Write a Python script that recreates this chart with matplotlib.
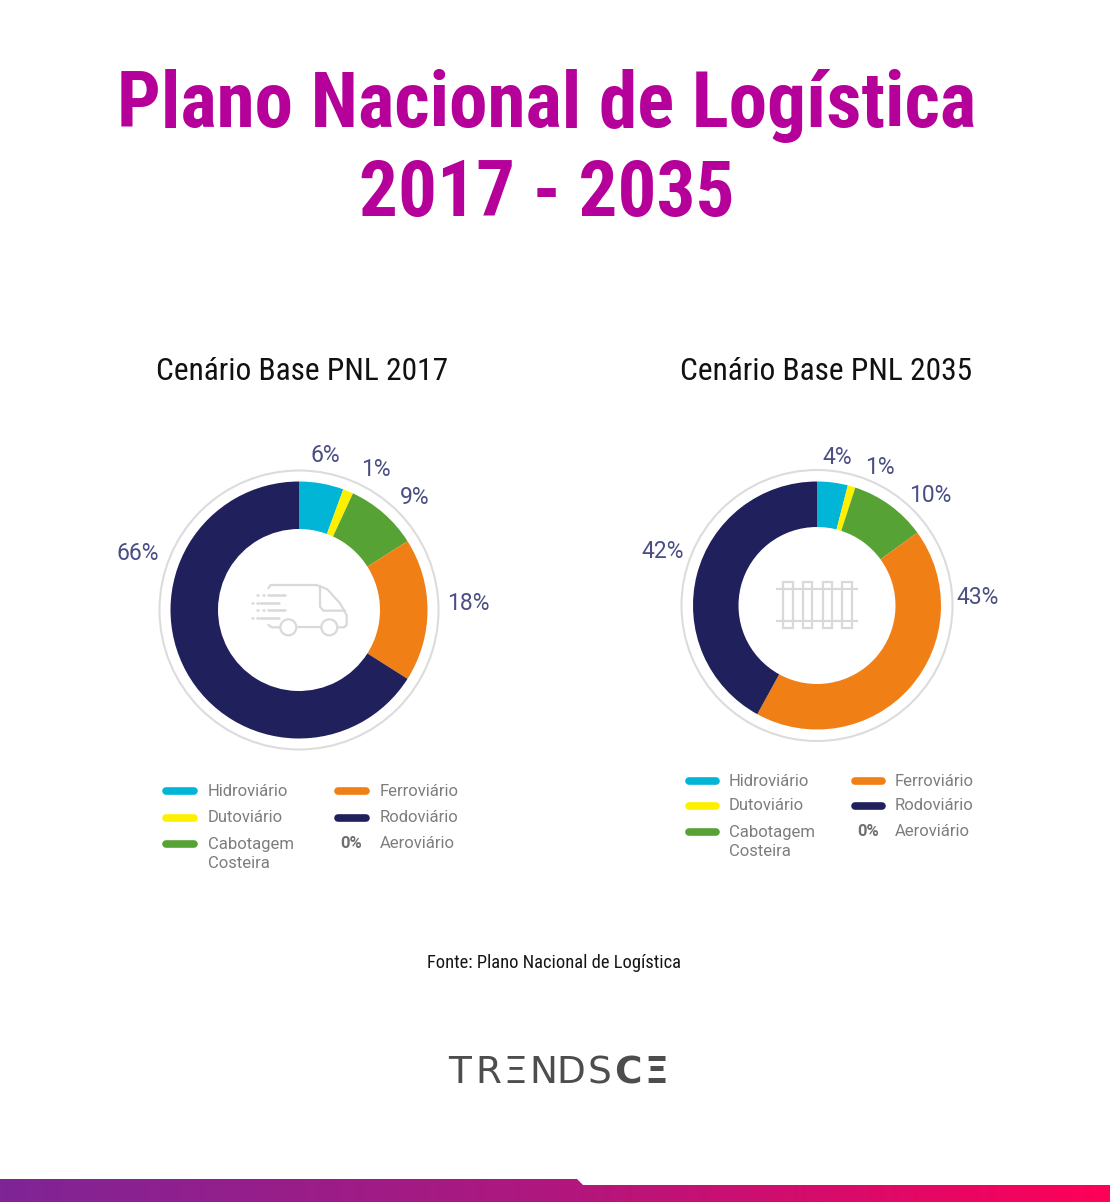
import numpy as np
import matplotlib
matplotlib.use('Agg')
import matplotlib.pyplot as plt
from matplotlib.colors import LinearSegmentedColormap
from matplotlib.patches import Circle, Polygon, Rectangle

W, H = 1110, 1202

# shares (clockwise from the top)
values_2017 = [5.6, 1.3, 9.1, 18, 66]
values_2035 = [4, 1, 10, 43, 42]
labels_2017 = ['6%', '1%', '9%', '18%', '66%']
labels_2035 = ['4%', '1%', '10%', '43%', '42%']
colors = ['#00b5d6', '#fff000', '#57a235', '#f07f16', '#20205c']
modes = ['Hidroviário', 'Dutoviário', 'Cabotagem\nCosteira', 'Ferroviário', 'Rodoviário', 'Aeroviário']

NARROW = ['Roboto Condensed', 'Liberation Sans']
LABEL_COL = '#4a4e84'
LEG_COL = '#7d7d7d'
ICON = '#d9d9d9'

fig = plt.figure(figsize=(W / 100, H / 100), dpi=100, facecolor='white')


def donut(values, cx, cy, r_out, r_in, r_ring):
    # axes box is sized to the grey ring, so the pie radius stays in pixels
    ax = fig.add_axes([(cx - r_ring - 3) / W, 1 - (cy + r_ring + 3) / H,
                       (2 * r_ring + 6) / W, (2 * r_ring + 6) / H])
    ax.pie(values, colors=colors, startangle=90, counterclock=False, radius=1,
           wedgeprops=dict(width=1 - r_in / r_out, linewidth=0))
    lim = (r_ring + 3) / r_out
    ax.set_xlim(-lim, lim)
    ax.set_ylim(-lim, lim)
    ax.add_patch(Circle((0, 0), r_ring / r_out, fill=False, ec='#dcdcdc', lw=1.5))
    ax.axis('off')


donut(values_2017, 299, 610, 128.5, 81, 139.5)
donut(values_2035, 817, 605.5, 124, 78.5, 135.5)

# overlay in pixel coordinates for texts and decoration
ov = fig.add_axes([0, 0, 1, 1], zorder=5)
ov.set_xlim(0, W)
ov.set_ylim(H, 0)
ov.axis('off')
ov.patch.set_alpha(0)

ov.text(547, 127, 'Plano Nacional de Logística', ha='center', va='baseline', fontsize=55.5,
        fontweight='bold', color='#b5009a', family=NARROW)
ov.text(547, 216, '2017 - 2035', ha='center', va='baseline', fontsize=55.5,
        fontweight='bold', color='#b5009a', family=NARROW)

ov.text(302, 380, 'Cenário Base PNL 2017', ha='center', va='baseline', fontsize=22.6, color='#111111', family=NARROW)
ov.text(826, 380, 'Cenário Base PNL 2035', ha='center', va='baseline', fontsize=22.6, color='#111111', family=NARROW)

for lab, (x, y) in zip(labels_2017, [(325, 455), (376, 469), (415, 497), (468, 603), (138, 554)]):
    ov.text(x, y, lab, ha='center', va='center', fontsize=16.5, color=LABEL_COL, family='Roboto')
for lab, (x, y) in zip(labels_2035, [(837, 458), (880, 468), (930, 496), (978, 598), (663, 551)]):
    ov.text(x, y, lab, ha='center', va='center', fontsize=16.5, color=LABEL_COL, family='Roboto')


def legend(x_sw1, x_txt1, x_sw2, x_txt2, sw_w, rows, zero_x):
    for i in range(3):
        ov.plot([x_sw1 + 3, x_sw1 + sw_w - 3], [rows[i], rows[i]], color=colors[i], lw=5.5, solid_capstyle='round')
        ov.text(x_txt1, rows[i], modes[i].split('\n')[0], ha='left', va='center', fontsize=12, color=LEG_COL,
                family='Roboto')
    ov.text(x_txt1, rows[3], modes[2].split('\n')[1], ha='left', va='center', fontsize=12, color=LEG_COL,
            family='Roboto')
    for i in range(3, 5):
        y = rows[i - 3]
        ov.plot([x_sw2 + 3, x_sw2 + sw_w - 3], [y, y], color=colors[i], lw=5.5, solid_capstyle='round')
        ov.text(x_txt2, y, modes[i], ha='left', va='center', fontsize=12, color=LEG_COL, family='Roboto')
    ov.text(zero_x, rows[2], '0%', ha='left', va='center', fontsize=12, color='#6f6f6f',
            family='Roboto', fontweight='bold')
    ov.text(x_txt2, rows[2], modes[5], ha='left', va='center', fontsize=12, color=LEG_COL, family='Roboto')


legend(163, 208, 335, 380, 34, [791, 818, 844, 864], 340)
legend(686, 729, 852, 895, 33, [781, 806, 832, 851], 857)

ov.text(554, 968, 'Fonte: Plano Nacional de Logística', ha='center', va='baseline', fontsize=13.3,
        color='#151515', family=NARROW)

# logo letters
for ch, x, bold in [('T', 460, False), ('R', 488, False), ('Ξ', 515, False), ('N', 543, False),
                    ('D', 571, False), ('S', 599, False), ('C', 628, True), ('Ξ', 656, True)]:
    ov.text(x, 1083, ch, ha='center', va='baseline', fontsize=27, color='#4d4d4d', family='DejaVu Sans',
            fontweight='bold' if bold else 'normal')


# truck icon
def tx(x, y):
    return 240 + x / 3, 570 + y / 3


def trace(pts, lw=1.6):
    p = np.array([tx(*q) for q in pts])
    ov.plot(p[:, 0], p[:, 1], color=ICON, lw=lw, solid_capstyle='round', solid_joinstyle='round')


trace([(85, 55), (92, 45), (230, 45), (262, 58), (300, 100), (320, 135), (320, 165), (312, 172), (292, 172)])
trace([(85, 165), (95, 172), (120, 172)])
trace([(170, 172), (243, 172)])
trace([(240, 48), (240, 110), (250, 122), (315, 122)])
for wx in (145, 268):
    c = tx(wx, 172)
    ov.add_patch(Circle(c, 8, fill=False, ec=ICON, lw=1.6))
for row, x0, x1, dots in [(75, 85, 135, (52, 70)), (100, 60, 118, (35, 50)),
                          (120, 85, 135, (52, 70)), (145, 60, 118, (35, 50))]:
    trace([(x0, row), (x1, row)], lw=1.8)
    for d in dots:
        trace([(d, row), (d + 3, row)], lw=1.8)
trace([(255, 92), (255, 93)], lw=1.3)
trace([(255, 105), (255, 106)], lw=1.3)

# rail icon
for y in (477, 572):
    ov.plot([640 + 412 / 3, 640 + 652 / 3], [430 + y / 3, 430 + y / 3], color=ICON, lw=1.6)
for x0, x1 in [(430, 458), (488, 517), (548, 577), (607, 636)]:
    ov.add_patch(Rectangle((640 + x0 / 3, 430 + 455 / 3), (x1 - x0) / 3, 140 / 3, fill=False, ec=ICON, lw=1.6))

# gradient strip along the bottom
cmap = LinearSegmentedColormap.from_list('strip', ['#7f2596', '#b0177e', '#ff0058'])
im = ov.imshow(np.linspace(0, 1, 512).reshape(1, -1), extent=(0, W, H, 1179), aspect='auto', cmap=cmap, zorder=1)
im.set_clip_path(Polygon([(0, 1179), (577, 1179), (583, 1185), (W, 1185), (W, H), (0, H)], transform=ov.transData))
ov.set_xlim(0, W)
ov.set_ylim(H, 0)

fig.savefig('out.png', dpi=100, facecolor='white')
